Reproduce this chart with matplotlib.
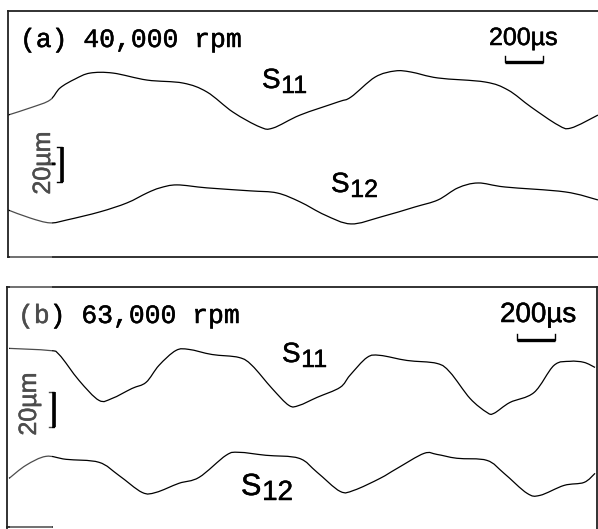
import numpy as np
import matplotlib.pyplot as plt
import matplotlib.patheffects as pe
from matplotlib.patches import Rectangle, PathPatch
from matplotlib.path import Path
from matplotlib.lines import Line2D

# traces: time in us, shaft displacement in um
t_a_s11 = [0, 130, 221, 274, 353, 432, 553, 732, 921, 1047, 1184, 1326, 1395, 1537,
           1737, 1805, 1932, 2037, 2121, 2263, 2511, 2632, 2753, 2895, 2963, 3105]
s11_a = [-8.6, -4.0, 0.0, 6.9, 12.0, 15.4, 15.4, 11.4, 9.7, 4.6, -6.9, -15.4, -16.0, -8.6,
         -1.1, 1.7, 13.1, 16.6, 16.0, 12.6, 10.3, 5.7, -4.0, -14.3, -16.0, -8.6]

t_a_s12 = [0, 116, 221, 311, 484, 626, 732, 800, 889, 1047, 1274, 1416, 1537, 1668,
           1805, 1963, 2142, 2263, 2368, 2474, 2616, 2932, 3105]
s12_a = [-4.0, -8.6, -11.4, -9.7, -5.1, 0.0, 5.7, 8.6, 10.3, 8.6, 6.9, 5.7, 0.6, -6.9,
         -12.0, -8.0, -2.3, 1.7, 8.6, 11.4, 9.1, 6.3, 1.7]

t_b_s11 = [11, 221, 274, 379, 484, 553, 658, 732, 800, 889, 958, 1079, 1221, 1289, 1395,
           1484, 1537, 1632, 1753, 1805, 1895, 1963, 2105, 2263, 2332, 2437, 2526, 2563,
           2647, 2774, 2879, 2963, 3037, 3095]
s11_b = [18.3, 17.1, 14.8, 0.0, -11.4, -10.3, -4.6, -1.1, 8.6, 17.1, 17.7, 14.8, 13.1, 8.6, -4.6,
         -14.3, -14.3, -9.7, -4.0, 2.9, 13.1, 14.3, 11.4, 9.7, 4.6, -10.3, -18.3, -18.8,
         -12.6, -6.9, 8.6, 10.9, 10.3, 7.4]

t_b_s12 = [11, 100, 205, 311, 484, 589, 711, 784, 905, 1011, 1153, 1221, 1363, 1537, 1632,
           1753, 1826, 1963, 2053, 2195, 2263, 2368, 2526, 2616, 2737, 2805, 2932, 3037, 3095]
s12_b = [-4.6, 2.9, 8.0, 6.3, 4.6, -2.9, -12.6, -12.6, -7.4, -4.0, 8.6, 10.3, 8.6, 6.9, -1.1,
         -12.0, -11.4, -4.6, 1.1, 9.7, 9.1, 6.9, 5.7, -1.7, -13.1, -14.3, -8.6, -6.9, -1.7]

W, H = 598, 529
US_PER_PX = 200 / 38
UM_PER_PX = 20 / 35

fig = plt.figure(figsize=(W / 100, H / 100), dpi=100)
ink = [pe.withStroke(linewidth=0.35, foreground='black')]


def panel(x0, y0, x1, y1):
    ax = fig.add_axes([x0 / W, 1 - y1 / H, (x1 - x0) / W, (y1 - y0) / H])
    ax.set_xlim(0, (x1 - x0) * US_PER_PX)
    ax.set_ylim(0, (y1 - y0) * UM_PER_PX)
    ax.set_xticks([])
    ax.set_yticks([])
    for sp in ax.spines.values():
        sp.set_linewidth(1.3)
        sp.set_color('#222222')
    return ax


def trace(ax, t, d, base):
    # Catmull-Rom curve through the read points, drawn as a cubic bezier path
    p = np.column_stack([t, base + np.asarray(d)])
    n = len(p)
    verts, codes = [p[0]], [Path.MOVETO]
    for i in range(n - 1):
        p0, p1 = p[max(i - 1, 0)], p[i]
        p2, p3 = p[i + 1], p[min(i + 2, n - 1)]
        verts += [p1 + (p2 - p0) / 6, p2 - (p3 - p1) / 6, p2]
        codes += [Path.CURVE4] * 3
    ax.add_patch(PathPatch(Path(verts, codes), fill=False, edgecolor='black', lw=0.9))


def time_bar(ax, t0, y):
    tick = 6 * UM_PER_PX
    ax.plot([t0, t0, t0 + 200, t0 + 200], [y + tick, y, y, y + tick], color='black', lw=1.0)
    ax.plot([t0, t0 + 200], [y, y], color='black', lw=2.4, solid_capstyle='butt')


def disp_bar(ax, t, y0):
    tick = 5 * US_PER_PX
    ax.plot([t - tick, t, t, t - tick], [y0, y0, y0 + 20, y0 + 20], color='black', lw=1.0)
    ax.plot([t, t], [y0, y0 + 20], color='black', lw=2.6, solid_capstyle='butt')


def label(x, y, main, sub, size=20, subsize=18):
    fig.text(x / W, 1 - y / H, main, fontsize=size, family='Liberation Sans',
             ha='left', va='baseline', path_effects=ink)
    fig.text((x + 0.96 * size) / W, 1 - (y + 5) / H, sub, fontsize=subsize,
             family='Liberation Sans', ha='left', va='baseline', path_effects=ink)


# (a) 40,000 rpm
ax_a = panel(8, 11, 602, 257)
ax_a.spines['right'].set_visible(False)
trace(ax_a, t_a_s11, s11_a, 89.7)
trace(ax_a, t_a_s12, s12_a, 30.9)
time_bar(ax_a, 2616, 111.4)
disp_bar(ax_a, 284, 42.8)

# (b) 63,000 rpm
ax_b = panel(7, 287, 597, 540)
ax_b.spines['bottom'].set_visible(False)
trace(ax_b, t_b_s11, s11_b, 91.2)
trace(ax_b, t_b_s12, s12_b, 39.8)
time_bar(ax_b, 2684, 114.3)
disp_bar(ax_b, 247, 64.6)
fig.lines.append(Line2D([7 / W, 52 / W], [1 - 527 / H, 1 - 527 / H],
                        transform=fig.transFigure, color='#222222', lw=1.3))

mono = 'Liberation Mono'
fig.text(20 / W, 1 - 47 / H, '(a) 40,000 rpm', fontsize=19, family=mono,
         va='baseline', path_effects=ink)
fig.text(18 / W, 1 - 323 / H, '(b) 63,000 rpm', fontsize=19, family=mono,
         va='baseline', path_effects=ink)
fig.text(489 / W, 1 - 45 / H, '200\u00b5s', fontsize=18, family='Liberation Sans',
         va='baseline', path_effects=ink)
fig.text(500 / W, 1 - 322 / H, '200\u00b5s', fontsize=20, family='Liberation Sans',
         va='baseline', path_effects=ink)
fig.text(43 / W, 1 - 163 / H, '20\u00b5m', fontsize=18, family='Liberation Sans',
         rotation=90, ha='center', va='center', path_effects=ink)
fig.text(29 / W, 1 - 404 / H, '20\u00b5m', fontsize=18, family='Liberation Sans',
         rotation=90, ha='center', va='center', path_effects=ink)

label(262, 88, 'S', '11')
label(331, 192, 'S', '12')
label(282, 362, 'S', '11')
label(241, 495, 'S', '12', size=22, subsize=20)

# washed-out strip along the left edge of the scan
fig.patches.append(Rectangle((10 / W, 0), 42 / W, 1 - 58 / H, transform=fig.transFigure,
                             color='white', alpha=0.3, lw=0, zorder=10))

fig.savefig('out.png', dpi=100)
